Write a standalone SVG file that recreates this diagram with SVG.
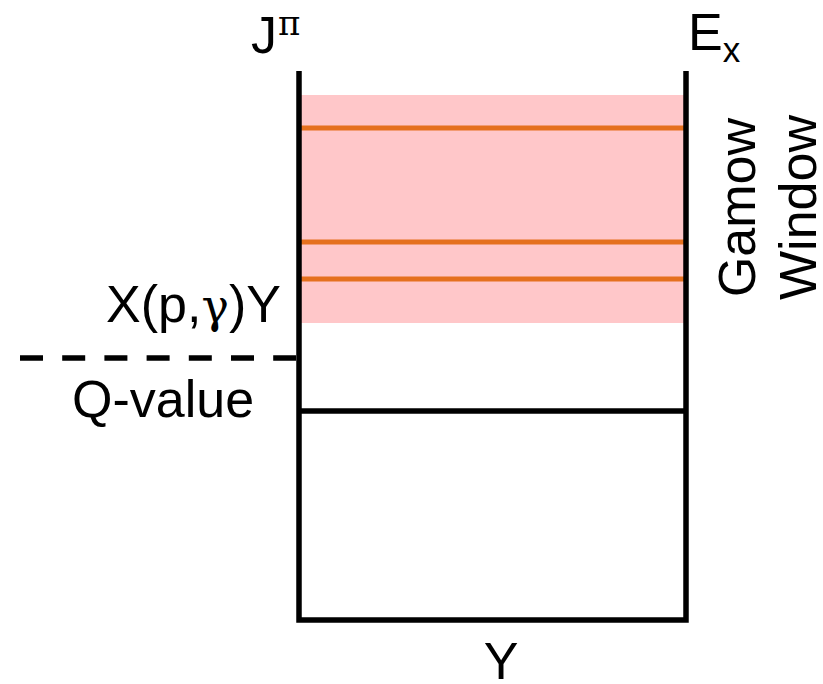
<svg xmlns="http://www.w3.org/2000/svg" width="823" height="684" viewBox="0 0 823 684">
<style>
.t{font-family:"Liberation Sans",Arial,sans-serif;font-size:52px;fill:#000}
.s{font-family:"DejaVu Serif","Liberation Serif",serif}
.lv{stroke:#E5701E;stroke-width:5;fill:none}
.bk{stroke:#000;stroke-width:5.5;fill:none}
</style>
<rect width="823" height="684" fill="#fff"/>
<g id="gamow-window">
<rect x="301" y="95" width="383" height="228" fill="#FFC7C9"/>
<text class="t" transform="translate(755,207.5) rotate(-90)" text-anchor="middle">Gamow</text>
<text class="t" transform="translate(816,207.5) rotate(-90)" text-anchor="middle">Window</text>
</g>
<g id="levels">
<line class="lv" x1="301" y1="128" x2="684" y2="128"/>
<line class="lv" x1="301" y1="242" x2="684" y2="242"/>
<line class="lv" x1="301" y1="279" x2="684" y2="279"/>
<line class="bk" x1="301" y1="411" x2="684" y2="411"/>
</g>
<g id="frame">
<path class="bk" d="M299,71 V620 H686 V71" stroke-linejoin="miter"/>
</g>
<g id="connectors">
<line class="bk" x1="20" y1="358" x2="296" y2="358" stroke-dasharray="23 19.2"/>
</g>
<g id="labels">
<text class="t" x="251" y="53">J<tspan class="s" font-size="34" dx="1" dy="-18">π</tspan></text>
<text class="t" x="688" y="50">E<tspan font-size="35" dy="12">x</tspan></text>
<text class="t" x="106" y="322">X(p,<tspan class="s" font-size="46">γ</tspan>)Y</text>
<text class="t" x="72" y="417">Q-value</text>
<text class="t" x="501" y="679" text-anchor="middle">Y</text>
</g>
</svg>
